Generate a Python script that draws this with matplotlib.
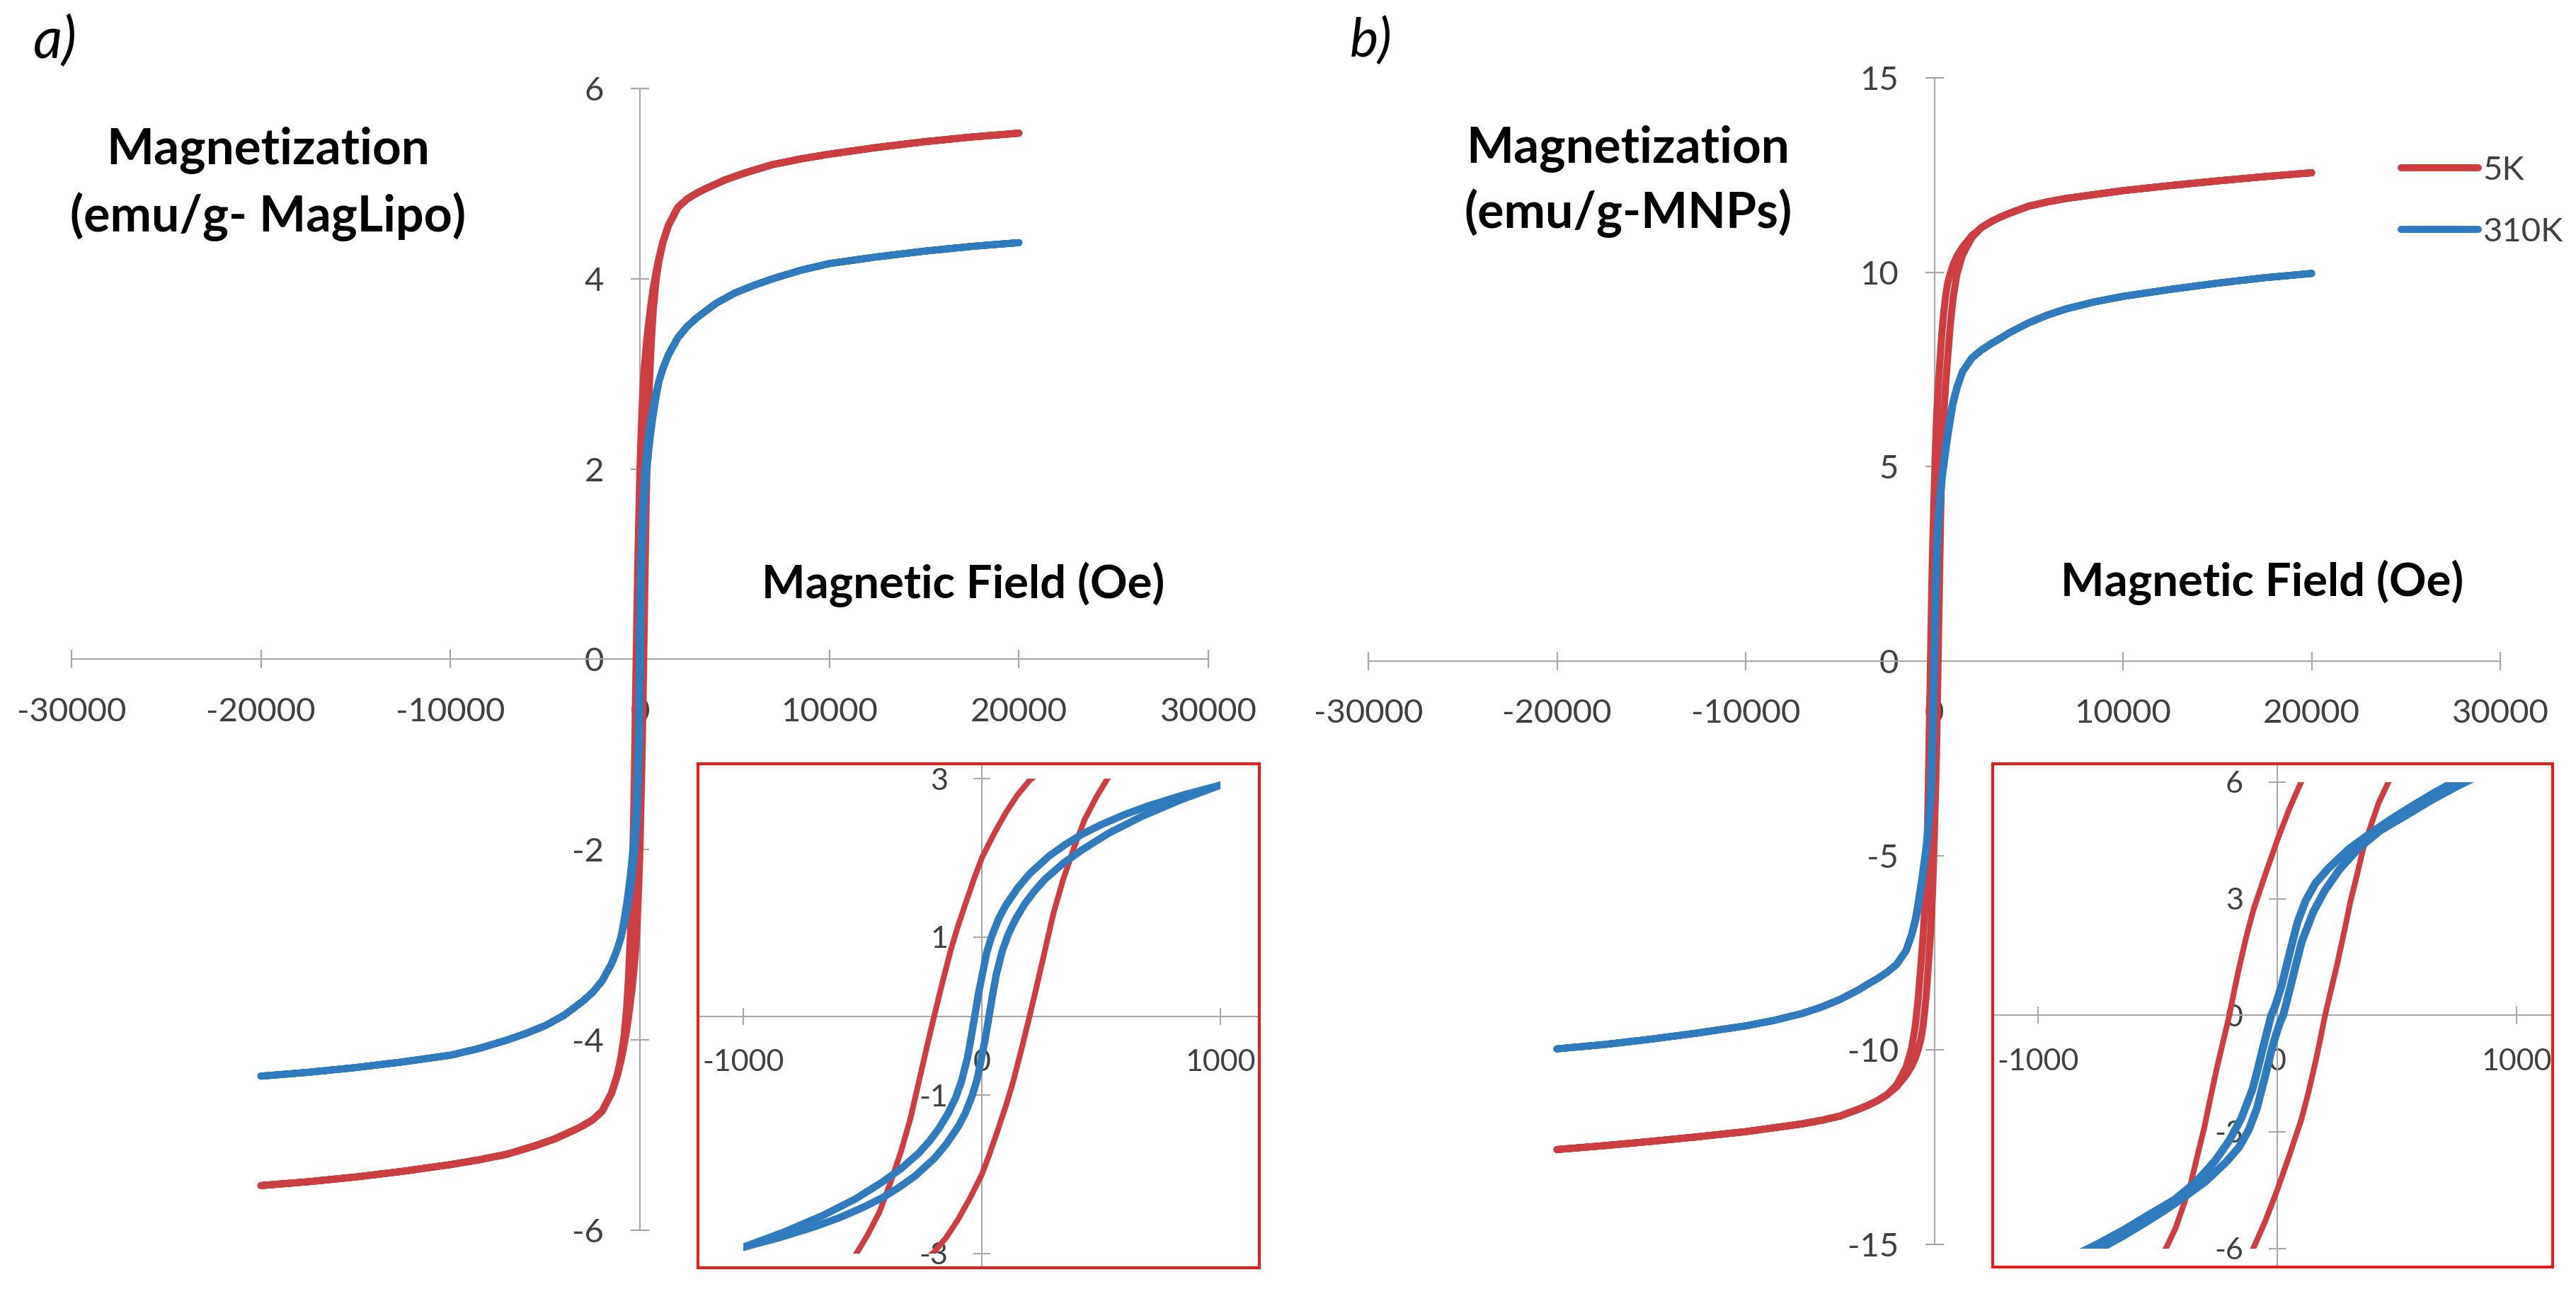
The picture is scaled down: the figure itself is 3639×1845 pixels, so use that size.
import matplotlib
matplotlib.use('Agg')
import matplotlib.pyplot as plt
from matplotlib.patches import Rectangle

plt.rcParams['font.family'] = ['Lato', 'DejaVu Sans']

# ---------------- data (descending branches, field +20000 -> -20000 Oe) ----------------
field_a_5K = [20000, 17500, 15000, 12500, 10000, 8500, 7000, 5500, 4500, 3500, 3000, 2500, 2000,
              1500, 1200, 1000, 850, 700, 600, 500, 420, 350, 280, 200, 150, 100, 50, 0,
              -30, -60, -100, -130, -165, -200, -230, -265, -300, -340, -385, -430, -480, -530,
              -600, -700, -850, -1000, -1200, -1500, -2000, -2500, -3000, -3500, -4500, -5500,
              -7000, -8500, -10000, -12500, -15000, -17500, -20000]
mag_a_5K = [5.53, 5.49, 5.44, 5.38, 5.31, 5.26, 5.20, 5.11, 5.04, 4.95, 4.90, 4.84, 4.75,
            4.56, 4.38, 4.22, 4.07, 3.90, 3.76, 3.60, 3.47, 3.34, 3.18, 2.98, 2.80, 2.57, 2.30, 2.00,
            1.76, 1.50, 1.14, 0.84, 0.43, 0.00, -0.38, -0.84, -1.30, -1.72, -2.12, -2.48, -2.77, -3.02,
            -3.33, -3.66, -3.98, -4.18, -4.37, -4.56, -4.75, -4.84, -4.90, -4.95, -5.04, -5.11,
            -5.20, -5.26, -5.31, -5.38, -5.44, -5.49, -5.53]

field_a_310K = [20000, 17500, 15000, 12500, 10000, 8500, 7000, 6000, 5000, 4000, 3000, 2500, 2000,
                1500, 1200, 1000, 850, 700, 600, 500, 420, 350, 280, 200, 150, 100, 70, 40, 20, 0,
                -15, -30, -45, -60, -85, -110, -140, -180, -220, -264, -340, -419, -530, -667, -830,
                -1000, -1200, -1500, -2000, -2500, -3000, -4000, -5000, -6000, -7000, -8500,
                -10000, -12500, -15000, -17500, -20000]
mag_a_310K = [4.38, 4.34, 4.29, 4.23, 4.16, 4.09, 4.00, 3.93, 3.85, 3.74, 3.59, 3.50, 3.38,
              3.20, 3.05, 2.92, 2.80, 2.66, 2.55, 2.42, 2.30, 2.17, 2.02, 1.80, 1.62, 1.40, 1.23, 1.00, 0.80, 0.50,
              0.27, 0.00, -0.27, -0.52, -0.82, -1.03, -1.22, -1.42, -1.58, -1.73, -1.93, -2.10, -2.31, -2.52, -2.73,
              -2.92, -3.05, -3.20, -3.38, -3.50, -3.59, -3.74, -3.85, -3.93, -4.00, -4.09,
              -4.16, -4.23, -4.29, -4.34, -4.38]

field_b_5K = [20000, 17500, 15000, 12500, 10000, 8500, 7000, 6000, 5000, 4000, 3500, 3000, 2500,
              2000, 1500, 1200, 1000, 850, 700, 600, 500, 420, 350, 280, 200, 150, 100, 50, 0,
              -50, -100, -130, -160, -180, -200, -225, -250, -280, -305, -335, -360, -395, -425,
              -465, -530, -600, -700, -850, -1000, -1200, -1500, -2000, -2500, -3000, -3500,
              -4000, -5000, -6000, -7000, -8500, -10000, -12500, -15000, -17500, -20000]
mag_b_5K = [12.56, 12.46, 12.35, 12.23, 12.10, 12.00, 11.90, 11.81, 11.70, 11.52, 11.42, 11.30, 11.15,
            10.95, 10.65, 10.42, 10.20, 9.98, 9.70, 9.40, 8.95, 8.55, 8.08, 7.58, 7.00, 6.55, 6.00, 5.30, 4.50,
            3.62, 2.70, 2.00, 1.20, 0.62, 0.00, -0.65, -1.30, -2.15, -2.90, -3.65, -4.30, -4.95, -5.48,
            -6.00, -6.55, -7.10, -7.75, -8.65, -9.35, -9.95, -10.45, -10.90, -11.15, -11.30, -11.42,
            -11.52, -11.70, -11.81, -11.90, -12.00, -12.10, -12.23, -12.35, -12.46, -12.56]

field_b_310K = [20000, 17500, 15000, 12500, 10000, 8500, 7000, 6000, 5000, 4000, 3500, 3000, 2500,
                2000, 1500, 1200, 1000, 850, 762, 650, 550, 470, 389, 300, 214, 160, 119, 85, 56, 35,
                20, 0, -12, -25, -40, -56, -80, -103, -150, -198, -260, -341, -430, -532, -640,
                -754, -870, -1000, -1200, -1500, -2000, -2500, -3000, -3500, -4000, -5000, -6000,
                -7000, -8500, -10000, -12500, -15000, -17500, -20000]
mag_b_310K = [9.97, 9.86, 9.72, 9.56, 9.38, 9.24, 9.06, 8.90, 8.70, 8.45, 8.30, 8.16, 8.00,
              7.80, 7.45, 7.05, 6.70, 6.35, 6.08, 5.70, 5.33, 5.02, 4.68, 4.28, 3.78, 3.40, 2.95, 2.40, 1.70, 1.18,
              0.80, 0.40, 0.18, 0.00, -0.36, -0.75, -1.35, -1.90, -2.65, -3.20, -3.75, -4.30, -4.75, -5.12, -5.52,
              -5.90, -6.25, -6.62, -7.02, -7.45, -7.80, -8.00, -8.16, -8.30, -8.45, -8.70, -8.90,
              -9.06, -9.24, -9.38, -9.56, -9.72, -9.86, -9.97]

series_labels = ['5K', '310K']
main_xticks = [-30000, -20000, -10000, 0, 10000, 20000, 30000]
yticks_a = [-6, -4, -2, 0, 2, 4, 6]
yticks_b = [-15, -10, -5, 0, 5, 10, 15]
inset_xticks = [-1000, 0, 1000]
inset_yticks_a = [-3, -1, 1, 3]
inset_yticks_b = [-6, -3, 0, 3, 6]

# ---------------- style ----------------
W, H = 3639, 1845
RED = '#CD3E43'
BLUE = '#2F7BBE'
AXC = '#A8A8A8'
TXC = '#404040'
BOX = '#E0201F'

fig = plt.figure(figsize=(W / 100, H / 100), dpi=100)
fig.patch.set_facecolor('white')


def full_loop(h, m):
    # descending branch followed by the (point-symmetric) ascending branch
    hh = list(h) + [-v for v in h]
    mm = list(m) + [-v for v in m]
    return hh, mm


def rect(x0, x1, ytop, ybot):
    return [x0 / W, 1 - ybot / H, (x1 - x0) / W, (ybot - ytop) / H]


def style_axes(ax, size, lab, pad_x, pad_y, lw):
    ax.patch.set_visible(False)
    for s in ['top', 'right']:
        ax.spines[s].set_visible(False)
    for s in ['left', 'bottom']:
        ax.spines[s].set_position(('data', 0))
        ax.spines[s].set_color(AXC)
        ax.spines[s].set_linewidth(lw)
    ax.set_axisbelow(True)
    ax.tick_params(direction='inout', length=size, width=lw, color=AXC,
                   labelcolor=TXC, labelsize=lab)
    ax.tick_params(axis='x', pad=pad_x)
    ax.tick_params(axis='y', pad=pad_y)


def main_panel(pos, ylim, yticks, d5, d310, lw=7.2):
    ax = fig.add_axes(pos)
    ax.set_xlim(-30000, 30000)
    ax.set_ylim(-ylim, ylim)
    style_axes(ax, 19, 34, 29, 27, 1.6)
    ax.set_xticks(main_xticks)
    ax.set_xticklabels([str(v) for v in main_xticks])
    ax.set_yticks(yticks)
    ax.set_yticklabels([str(v) for v in yticks])
    h, m = full_loop(*d5)
    l5, = ax.plot(h, m, color=RED, lw=lw, solid_capstyle='round', solid_joinstyle='round', zorder=3)
    h, m = full_loop(*d310)
    l3, = ax.plot(h, m, color=BLUE, lw=lw, solid_capstyle='round', solid_joinstyle='round', zorder=4)
    return ax, l5, l3


def inset_panel(pos, xlim, ylim, clipy, yticks, d5, d310, blue_lw):
    ax = fig.add_axes(pos)
    ax.set_xlim(*xlim)
    ax.set_ylim(*ylim)
    style_axes(ax, 17, 31, 25, 26, 1.5)
    ax.patch.set_visible(True)
    ax.patch.set_facecolor('white')
    ax.set_xticks(inset_xticks)
    ax.set_xticklabels([str(v) for v in inset_xticks])
    ax.set_yticks(yticks)
    ax.set_yticklabels([str(v) for v in yticks])
    clip = Rectangle((-1000, -clipy), 2000, 2 * clipy, transform=ax.transData)
    h, m = full_loop(*d5)
    l, = ax.plot(h, m, color=RED, lw=5.8, solid_joinstyle='round', zorder=3)
    l.set_clip_path(clip)
    h, m = full_loop(*d310)
    l, = ax.plot(h, m, color=BLUE, lw=blue_lw, solid_joinstyle='round', zorder=4)
    l.set_clip_path(clip)
    box = Rectangle((0, 0), 1, 1, transform=ax.transAxes, fill=False,
                    edgecolor=BOX, lw=3.0, clip_on=False, zorder=10)
    ax.add_patch(box)
    return ax


# panel a
ax_a, _, _ = main_panel(rect(101, 1707, 125, 1738), 6, yticks_a,
                        (field_a_5K, mag_a_5K), (field_a_310K, mag_a_310K))
# panel b
ax_b, lb5, lb3 = main_panel(rect(1933, 3532, 110, 1758), 15, yticks_b,
                            (field_b_5K, mag_b_5K), (field_b_310K, mag_b_310K))

# insets
inset_panel(rect(986, 1779, 1079, 1791), (-1190, 1163), (-3.18, 3.19), 3, inset_yticks_a,
            (field_a_5K, mag_a_5K), (field_a_310K, mag_a_310K), 7.5)
inset_panel(rect(2815, 3606, 1079, 1790), (-1189, 1151), (-6.48, 6.47), 6, inset_yticks_b,
            (field_b_5K, mag_b_5K), (field_b_310K, mag_b_310K), 8.0)

# legend (panel b)
leg = ax_b.legend([lb5, lb3], series_labels, loc='upper left',
                  bbox_to_anchor=(3392 / W, 1 - 220 / H), bbox_transform=fig.transFigure,
                  frameon=False, fontsize=34, handlelength=2.3, handletextpad=0.15,
                  labelspacing=0.95, borderpad=0, borderaxespad=0)
for t in leg.get_texts():
    t.set_color(TXC)

# ---------------- texts ----------------
renderer = fig.canvas.get_renderer()


def fit_text(x, y, s, target_w, ha='center', **kw):
    t = fig.text(x / W, 1 - y / H, s, ha=ha, va='center', fontsize=50, **kw)
    bb = t.get_window_extent(renderer)
    t.set_fontsize(50 * target_w / bb.width)
    return t


fit_text(47, 58, 'a)', 62, ha='left', style='italic', color='black')
fit_text(1907, 58, 'b)', 60, ha='left', style='italic', color='black')

fit_text(379, 213, 'Magnetization', 458, fontweight='bold', color='black')
fit_text(379, 306, '(emu/g- MagLipo)', 560, fontweight='bold', color='black')
fit_text(1361, 826, 'Magnetic Field (Oe)', 571, fontweight='bold', color='black')

fit_text(2300, 210, 'Magnetization', 458, fontweight='bold', color='black')
fit_text(2300, 301, '(emu/g-MNPs)', 464, fontweight='bold', color='black')
fit_text(3196, 823, 'Magnetic Field (Oe)', 571, fontweight='bold', color='black')

fig.savefig('out.png', dpi=100, facecolor='white')
